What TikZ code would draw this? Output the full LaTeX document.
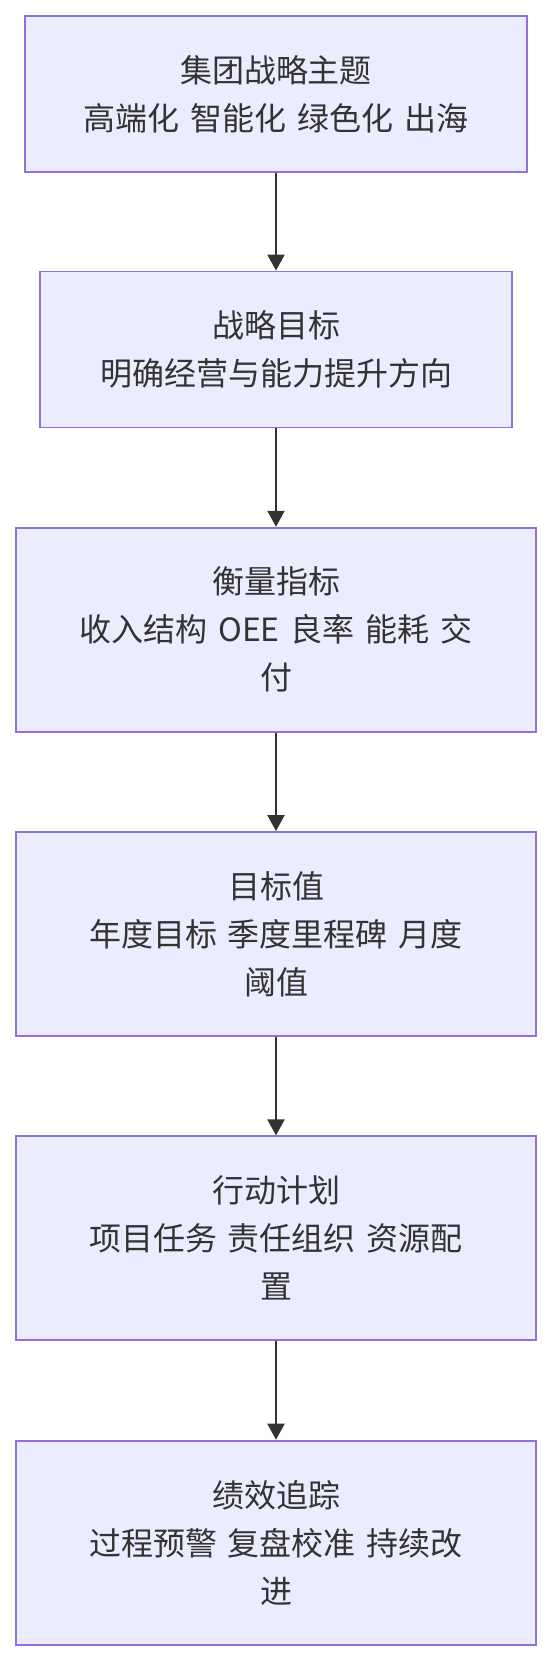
\documentclass[tikz,border=0pt]{standalone}
\usepackage{fontspec}
\setmainfont{Noto Sans CJK SC}
\usetikzlibrary{arrows.meta}
\definecolor{boxfill}{HTML}{ECECFF}
\definecolor{boxline}{HTML}{9370DB}
\definecolor{txt}{HTML}{333333}
\newcommand\widewordspace{\spaceskip=11pt\relax}
\tikzset{
  stepbox/.style={draw=boxline, fill=boxfill, line width=1.8pt, rectangle, inner sep=0pt,
    align=center, text=txt, font=\fontsize{32}{48}\selectfont,
    execute at begin node=\widewordspace},
  arr/.style={draw=txt, line width=2pt, -{Triangle[length=16pt,width=17pt]}}
}
\begin{document}
\begin{tikzpicture}[x=1pt,y=-1pt]
\useasboundingbox (0,0) rectangle (552,1660);
\node[stepbox, minimum width=502pt, minimum height=156pt] (b1) at (276,94) {集团战略主题\\高端化 智能化 绿色化 出海};
\node[stepbox, minimum width=472pt, minimum height=156pt] (b2) at (276,349.5) {战略目标\\明确经营与能力提升方向};
\node[stepbox, minimum width=520pt, minimum height=204pt] (b3) at (276,629.7) {衡量指标\\收入结构 OEE 良率 能耗 交\\付};
\node[stepbox, minimum width=520pt, minimum height=204pt] (b4) at (276,934) {目标值\\年度目标 季度里程碑 月度\\阈值};
\node[stepbox, minimum width=520pt, minimum height=204pt] (b5) at (276,1238.3) {行动计划\\项目任务 责任组织 资源配\\置};
\node[stepbox, minimum width=520pt, minimum height=204pt] (b6) at (276,1542.6) {绩效追踪\\过程预警 复盘校准 持续改\\进};
\draw[arr] (b1) -- (b2);
\draw[arr] (b2) -- (b3);
\draw[arr] (b3) -- (b4);
\draw[arr] (b4) -- (b5);
\draw[arr] (b5) -- (b6);
\end{tikzpicture}
\end{document}
